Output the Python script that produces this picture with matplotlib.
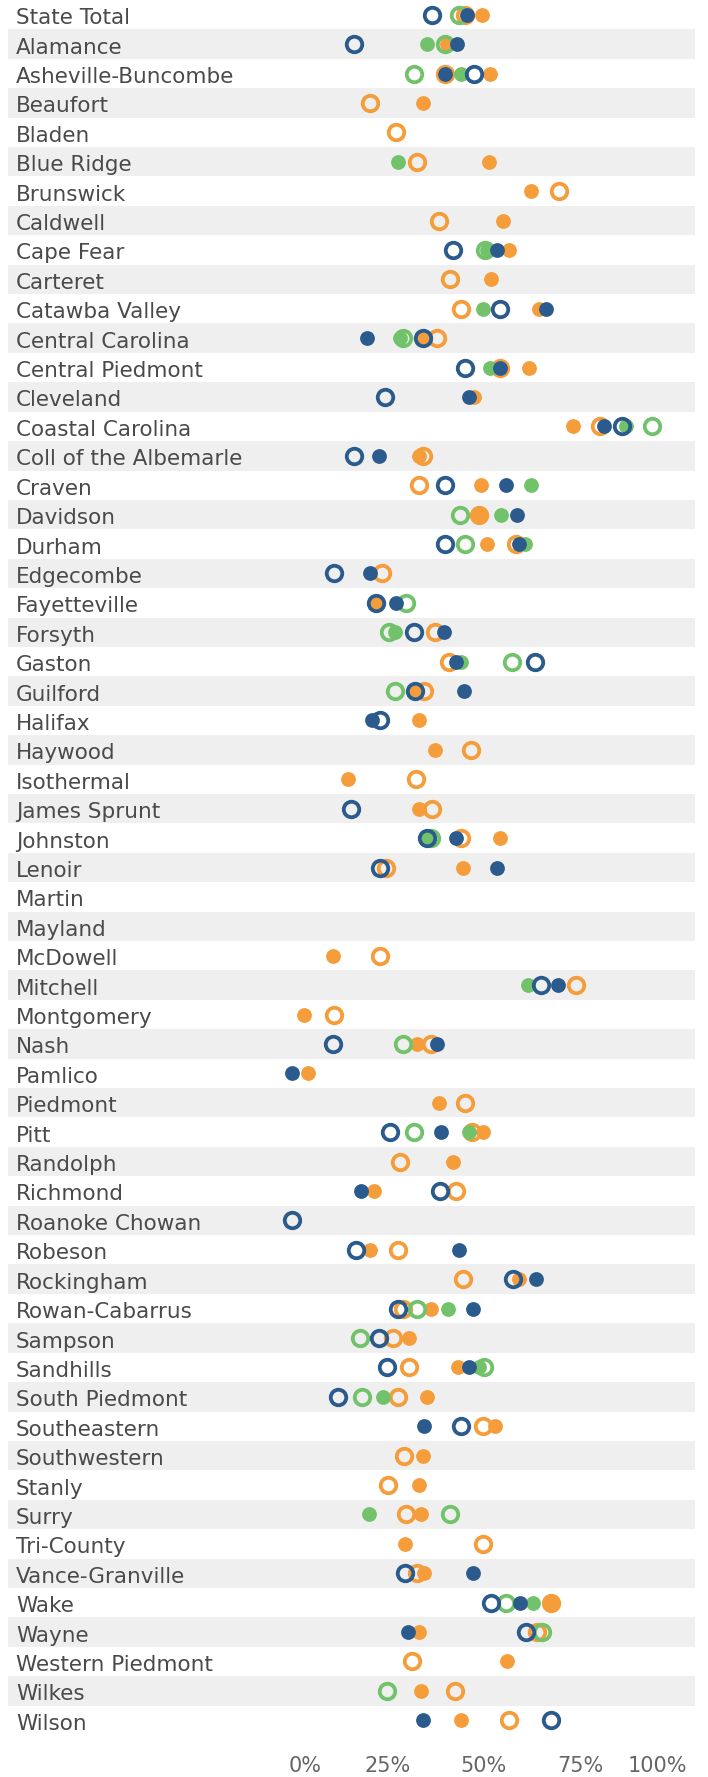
import numpy as np
import matplotlib
matplotlib.use("Agg")
import matplotlib.pyplot as plt
from matplotlib.transforms import ScaledTranslation

# colleges (top to bottom)
colleges = [
    "State Total", "Alamance", "Asheville-Buncombe", "Beaufort", "Bladen",
    "Blue Ridge", "Brunswick", "Caldwell", "Cape Fear", "Carteret",
    "Catawba Valley", "Central Carolina", "Central Piedmont", "Cleveland",
    "Coastal Carolina", "Coll of the Albemarle", "Craven", "Davidson", "Durham",
    "Edgecombe", "Fayetteville", "Forsyth", "Gaston", "Guilford", "Halifax",
    "Haywood", "Isothermal", "James Sprunt", "Johnston", "Lenoir", "Martin",
    "Mayland", "McDowell", "Mitchell", "Montgomery", "Nash", "Pamlico",
    "Piedmont", "Pitt", "Randolph", "Richmond", "Roanoke Chowan", "Robeson",
    "Rockingham", "Rowan-Cabarrus", "Sampson", "Sandhills", "South Piedmont",
    "Southeastern", "Southwestern", "Stanly", "Surry", "Tri-County",
    "Vance-Granville", "Wake", "Wayne", "Western Piedmont", "Wilkes", "Wilson",
]

# values in percent, None = no mark
blue_filled = [
    45.7, 43.1, 39.8, None, None, None, None, None, 53.3, None,
    66.0, 19.5, 54.2, 46.2, 81.2, 22.8, 55.6, 58.6, 59.2, 20.4,
    27.2, 39.6, 42.7, 44.8, 21.0, None, None, None, 42.7, 53.3,
    None, None, None, 69.2, None, 37.8, 0.2, None, 38.8, None,
    18.1, None, 43.5, 63.6, 47.2, None, 46.2, None, 34.5, None,
    None, None, None, 47.2, 59.4, 30.2, None, None, 34.2,
]
blue_hollow = [
    36.4, 16.3, 47.4, None, None, None, None, None, 41.9, None,
    54.2, 34.2, 45.1, 24.2, 85.7, 16.3, 39.8, None, 39.8, 11.0,
    21.9, 31.9, 63.3, 32.2, 23.1, None, None, 15.4, 35.1, 23.1,
    None, None, None, 64.8, None, 10.7, None, None, 25.7, None,
    38.6, 0.2, 16.9, 57.4, 27.7, 22.8, 24.8, 12.2, 43.9, None,
    None, None, None, 29.5, 51.8, 60.9, None, None, 67.4,
]
green_filled = [
    None, 35.1, 43.9, None, None, 27.7, None, None, 50.7, None,
    49.8, 28.1, 51.5, None, 86.9, None, 62.3, 54.5, 60.6, None,
    None, 26.9, 43.9, None, None, None, None, None, 35.4, None,
    None, None, None, 61.5, None, None, None, None, 46.2, None,
    None, None, None, None, 40.7, None, 48.6, 23.7, None, None,
    None, 20.2, None, None, 62.7, None, None, None, None,
]
green_hollow = [
    43.5, 39.9, 31.9, None, None, None, None, None, 50.2, None,
    None, 29.0, None, None, 93.5, None, None, 43.7, 45.1, None,
    29.8, 25.4, 57.2, 26.9, None, None, None, None, 36.3, None,
    None, None, None, None, None, 29.0, None, None, 31.9, None,
    None, None, None, None, 32.7, 17.8, 50.0, 18.4, None, None,
    None, 41.3, None, None, 55.6, 65.0, None, 24.8, None,
]
orange_filled = [
    49.4, 40.3, 51.5, 34.2, None, 51.3, 62.3, 55.0, 56.6, 51.8,
    64.4, 34.2, 61.7, 47.4, 73.2, 33.1, 49.2, 48.8, 50.7, None,
    21.9, None, None, 32.4, 33.1, 37.2, 14.8, 33.1, 54.2, 44.5,
    None, None, 10.7, None, 3.4, 32.7, 4.3, 38.3, 49.8, 41.9,
    21.4, None, 20.4, 59.2, 36.3, 30.4, 43.3, 35.1, 52.9, 34.2,
    33.1, 33.6, 29.5, 34.5, 67.4, 33.1, 56.0, 33.6, 43.9,
]
orange_hollow = [
    45.1, None, 39.8, 20.4, 27.2, 32.5, 69.5, 38.3, None, 41.3,
    44.1, 37.8, 54.2, None, 80.1, 34.2, 33.1, 48.8, 58.3, 23.4,
    None, 37.4, 41.0, 34.5, None, 46.6, 32.4, 36.6, 43.9, 24.5,
    None, None, 23.1, 73.9, 11.0, 36.3, None, 45.1, 46.8, 28.3,
    42.7, None, 27.7, 44.5, 29.0, 26.3, 30.4, 27.8, 49.8, 29.2,
    25.1, 29.8, 49.8, 32.7, 67.4, 63.8, 31.3, 42.4, 56.6,
]

BLUE = "#2b5b8c"
GREEN = "#72c26b"
ORANGE = "#f59d3a"

W, H, DPI = 708, 1777, 100
fig = plt.figure(figsize=(W / DPI, H / DPI), dpi=DPI)
# plot area in pixels: x 8..695, y 0..1735 from top
ax = fig.add_axes([8 / W, (H - 1735) / H, (695 - 8) / W, 1735 / H])

px_per_pct = 3.852
zero_px = 291.4
ax.set_xlim((8 - zero_px) / px_per_pct, (695 - zero_px) / px_per_pct)
n = len(colleges)
rows = np.arange(n)
ax.set_ylim(n - 0.5, -0.5)

# alternating row bands
for i in rows:
    if i % 2 == 1:
        ax.axhspan(i - 0.5, i + 0.5, color="#efefef", lw=0, zorder=0)

# row labels
lab_tr = ax.get_yaxis_transform() + ScaledTranslation(0, -0.095, fig.dpi_scale_trans)
for i, name in enumerate(colleges):
    ax.text(8 / 687, i, name, transform=lab_tr,
            ha="left", va="baseline", fontsize=15.5, color="#4a4a4a", zorder=1)

ms = 14.8 * 72 / DPI
hollow_ms = 15.5 * 72 / DPI
hollow_mew = 3.8 * 72 / DPI

series = [
    (orange_hollow, ORANGE, False),
    (orange_filled, ORANGE, True),
    (green_hollow, GREEN, False),
    (green_filled, GREEN, True),
    (blue_hollow, BLUE, False),
    (blue_filled, BLUE, True),
]
for z, (vals, col, filled) in enumerate(series):
    v = np.array(vals, dtype=float)
    if filled:
        ax.plot(v, rows, ls="none", marker="o", ms=ms, mfc=col, mec=col, mew=0, zorder=3 + z)
    else:
        ax.plot(v, rows, ls="none", marker="o", ms=hollow_ms, mfc="none", mec=col,
                mew=hollow_mew, zorder=3 + z)

ax.set_xticks([0, 25, 50, 75, 100])
ax.set_xticklabels(["0%", "25%", "50%", "75%", "100%"])
ax.tick_params(axis="x", length=0, pad=15, labelsize=15, labelcolor="#666666")
ax.set_yticks([])
for s in ax.spines.values():
    s.set_visible(False)

# end labels nudged inward like the original axis
labs = ax.get_xticklabels()
labs[0].set_transform(labs[0].get_transform() + ScaledTranslation(0.136, 0, fig.dpi_scale_trans))
labs[-1].set_transform(labs[-1].get_transform() + ScaledTranslation(-0.19, 0, fig.dpi_scale_trans))

fig.savefig("out.png", dpi=DPI)
